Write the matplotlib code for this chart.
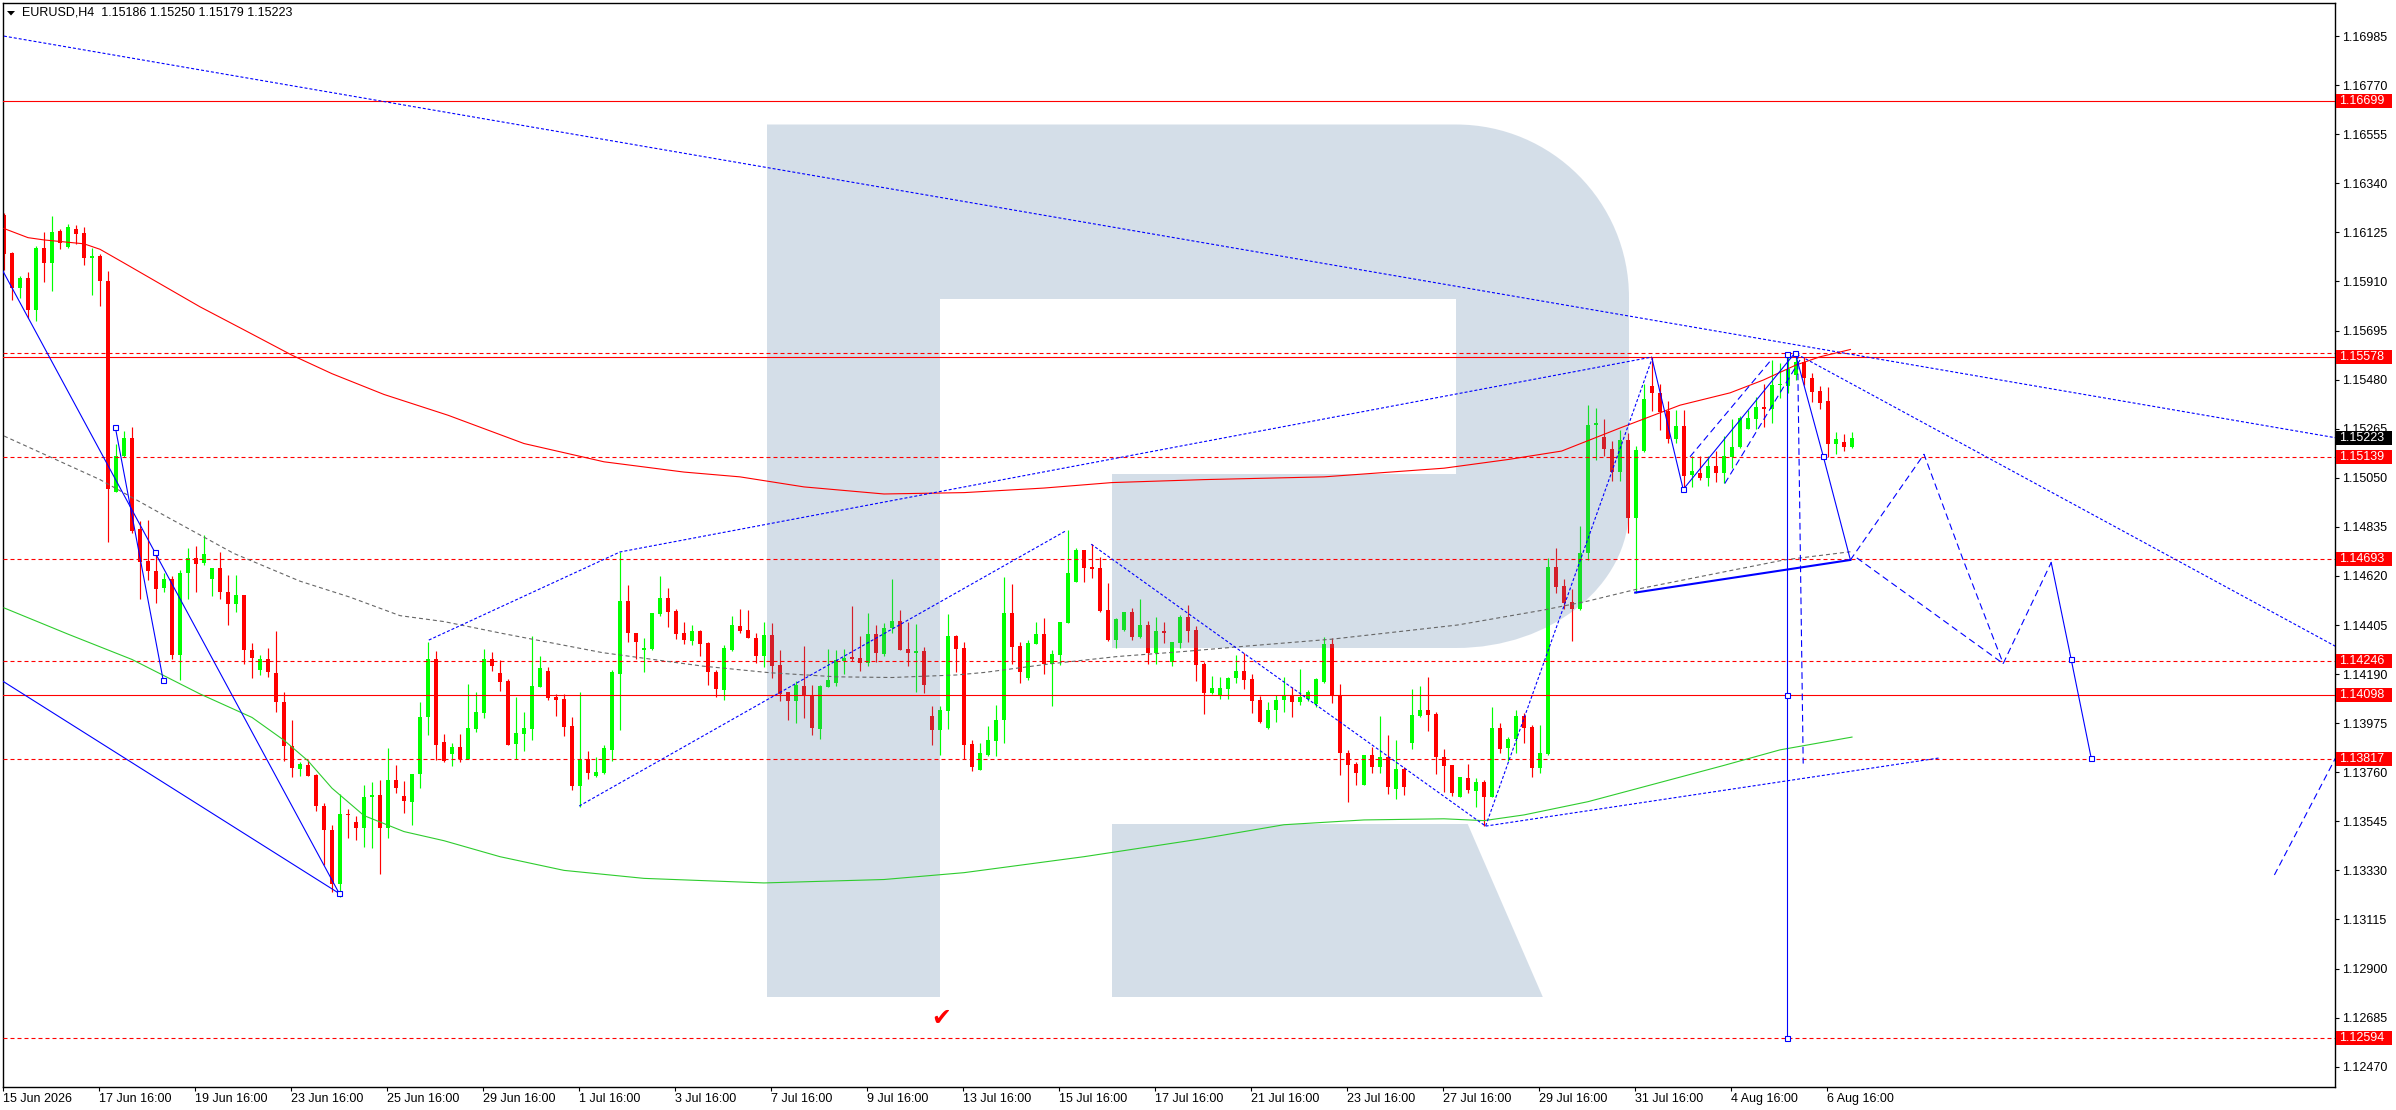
import numpy as np
import matplotlib
matplotlib.use('Agg')
import matplotlib.pyplot as plt
import matplotlib.patches as mpatches
from matplotlib.path import Path
from matplotlib.transforms import Affine2D, blended_transform_factory

plt.rcParams['font.family'] = ['Liberation Sans', 'DejaVu Sans']

# EURUSD H4 candles, bar 0 = 15 Jun 2026 16:00
opens = [1.16203, 1.16035, 1.15880, 1.15926, 1.15785, 1.16055, 1.15991, 1.16132, 1.16061, 1.16142,
         1.16122, 1.16015, 1.16021, 1.15914, 1.14987, 1.15147, 1.15223, 1.14824, 1.14686, 1.14642,
         1.14567, 1.14608, 1.14274, 1.14634, 1.14698, 1.14678, 1.14606, 1.14654, 1.14551, 1.14497,
         1.14537, 1.14295, 1.14210, 1.14254, 1.14194, 1.14069, 1.13875, 1.13776, 1.13790, 1.13748,
         1.13612, 1.13507, 1.13269, 1.13578, 1.13544, 1.13517, 1.13653, 1.13659, 1.13517, 1.13725,
         1.13655, 1.13628, 1.13754, 1.14002, 1.14258, 1.13892, 1.13841, 1.13869, 1.13818, 1.13951,
         1.14021, 1.14256, 1.14193, 1.14159, 1.13885, 1.13929, 1.13951, 1.14135, 1.14203, 1.14089,
         1.14081, 1.13962, 1.13700, 1.13818, 1.13743, 1.13756, 1.13859, 1.14192, 1.14510, 1.14370,
         1.14297, 1.14300, 1.14454, 1.14523, 1.14466, 1.14370, 1.14336, 1.14378, 1.14326, 1.14199,
         1.14120, 1.14297, 1.14400, 1.14383, 1.14348, 1.14269, 1.14361, 1.14230, 1.14111, 1.14073,
         1.14139, 1.14098, 1.13951, 1.14135, 1.14152, 1.14248, 1.14266, 1.14259, 1.14240, 1.14365,
         1.14279, 1.14394, 1.14423, 1.14300, 1.14284, 1.14292, 1.14007, 1.13946, 1.14029, 1.14357,
         1.14305, 1.13884, 1.13770, 1.13836, 1.13899, 1.13989, 1.14458, 1.14315, 1.14173, 1.14322,
         1.14366, 1.14235, 1.14274, 1.14414, 1.14594, 1.14734, 1.14660, 1.14655, 1.14471, 1.14340,
         1.14384, 1.14462, 1.14353, 1.14405, 1.14283, 1.14379, 1.14243, 1.14327, 1.14441, 1.14384,
         1.14235, 1.14108, 1.14099, 1.14125, 1.14173, 1.14204, 1.14169, 1.14077, 1.13954, 1.14033,
         1.14077, 1.14095, 1.14068, 1.14081, 1.14059, 1.14156, 1.14322, 1.14097, 1.13843, 1.13796,
         1.13704, 1.13836, 1.13784, 1.13825, 1.13688, 1.13773, 1.13887, 1.14006, 1.14033, 1.14015,
         1.13825, 1.13792, 1.13650, 1.13733, 1.13679, 1.13719, 1.13650, 1.13952, 1.13868, 1.13904,
         1.14006, 1.13957, 1.13777, 1.13840, 1.14657, 1.14576, 1.14506, 1.14474, 1.14719, 1.15282,
         1.15227, 1.15174, 1.15077, 1.15215, 1.14875, 1.15168, 1.15452, 1.15420, 1.15344, 1.15221,
         1.15277, 1.15061, 1.15069, 1.15049, 1.15101, 1.15072, 1.15142, 1.15183, 1.15265, 1.15309,
         1.15358, 1.15351, 1.15455, 1.15452, 1.15500, 1.15558, 1.15485, 1.15430, 1.15386, 1.15198,
         1.15205, 1.15186]
highs = [1.16209, 1.16041, 1.15934, 1.15950, 1.16065, 1.16128, 1.16197, 1.16142, 1.16162, 1.16158,
         1.16148, 1.16055, 1.16031, 1.15956, 1.15199, 1.15254, 1.15274, 1.14860, 1.14866, 1.14729,
         1.14634, 1.14618, 1.14648, 1.14743, 1.14753, 1.14799, 1.14654, 1.14725, 1.14622, 1.14624,
         1.14537, 1.14325, 1.14274, 1.14305, 1.14379, 1.14113, 1.13988, 1.13806, 1.13814, 1.13754,
         1.13624, 1.13527, 1.13663, 1.13598, 1.13568, 1.13705, 1.13719, 1.13725, 1.13865, 1.13790,
         1.13723, 1.13754, 1.14067, 1.14329, 1.14291, 1.13927, 1.13886, 1.13927, 1.14146, 1.14111,
         1.14300, 1.14286, 1.14251, 1.14167, 1.14089, 1.14024, 1.14359, 1.14269, 1.14219, 1.14102,
         1.14102, 1.14002, 1.14111, 1.13853, 1.13827, 1.13879, 1.14208, 1.14723, 1.14580, 1.14370,
         1.14348, 1.14457, 1.14619, 1.14567, 1.14473, 1.14418, 1.14405, 1.14383, 1.14332, 1.14208,
         1.14316, 1.14444, 1.14475, 1.14470, 1.14370, 1.14418, 1.14413, 1.14295, 1.14111, 1.14159,
         1.14313, 1.14142, 1.14142, 1.14300, 1.14295, 1.14300, 1.14488, 1.14357, 1.14457, 1.14405,
         1.14413, 1.14607, 1.14471, 1.14416, 1.14410, 1.14309, 1.14051, 1.14048, 1.14454, 1.14363,
         1.14331, 1.13902, 1.13889, 1.13963, 1.14055, 1.14616, 1.14585, 1.14331, 1.14340, 1.14419,
         1.14436, 1.14296, 1.14419, 1.14822, 1.14743, 1.14734, 1.14760, 1.14703, 1.14589, 1.14436,
         1.14462, 1.14480, 1.14519, 1.14423, 1.14441, 1.14419, 1.14331, 1.14449, 1.14493, 1.14401,
         1.14243, 1.14182, 1.14178, 1.14178, 1.14274, 1.14283, 1.14191, 1.14095, 1.14068, 1.14099,
         1.14178, 1.14134, 1.14213, 1.14121, 1.14173, 1.14353, 1.14347, 1.14147, 1.13857, 1.13806,
         1.13836, 1.13872, 1.14006, 1.13923, 1.13901, 1.13784, 1.14125, 1.14138, 1.14179, 1.14025,
         1.13860, 1.13792, 1.13738, 1.13796, 1.13733, 1.13726, 1.14044, 1.13974, 1.13913, 1.14033,
         1.14021, 1.13967, 1.13967, 1.14697, 1.14741, 1.14605, 1.14561, 1.14839, 1.15368, 1.15355,
         1.15306, 1.15212, 1.15259, 1.15244, 1.15189, 1.15463, 1.15577, 1.15459, 1.15387, 1.15347,
         1.15347, 1.15145, 1.15145, 1.15145, 1.15168, 1.15233, 1.15306, 1.15320, 1.15349, 1.15405,
         1.15463, 1.15566, 1.15551, 1.15598, 1.15598, 1.15580, 1.15510, 1.15452, 1.15446, 1.15252,
         1.15241, 1.15250]
lows = [1.15960, 1.15829, 1.15839, 1.15752, 1.15738, 1.15906, 1.15869, 1.16051, 1.16055, 1.16075,
        1.15980, 1.15849, 1.15803, 1.14769, 1.14987, 1.15143, 1.14808, 1.14521, 1.14602, 1.14501,
        1.14551, 1.14254, 1.14163, 1.14517, 1.14551, 1.14668, 1.14531, 1.14517, 1.14404, 1.14460,
        1.14234, 1.14174, 1.14188, 1.14178, 1.14026, 1.13810, 1.13739, 1.13743, 1.13743, 1.13592,
        1.13354, 1.13235, 1.13214, 1.13471, 1.13461, 1.13431, 1.13427, 1.13315, 1.13471, 1.13669,
        1.13582, 1.13527, 1.13693, 1.13921, 1.13814, 1.13803, 1.13789, 1.13803, 1.13818, 1.13938,
        1.13999, 1.14205, 1.14117, 1.13881, 1.13818, 1.13854, 1.13901, 1.14135, 1.14076, 1.14008,
        1.13919, 1.13682, 1.13609, 1.13730, 1.13737, 1.13752, 1.13808, 1.13945, 1.14330, 1.14256,
        1.14199, 1.14295, 1.14444, 1.14397, 1.14345, 1.14323, 1.14317, 1.14269, 1.14142, 1.14091,
        1.14076, 1.14291, 1.14371, 1.14348, 1.14237, 1.14222, 1.14174, 1.14073, 1.13989, 1.13977,
        1.13999, 1.13923, 1.13905, 1.14135, 1.14139, 1.14190, 1.14248, 1.14205, 1.14225, 1.14244,
        1.14269, 1.14371, 1.14296, 1.14227, 1.14113, 1.14109, 1.13880, 1.13836, 1.13950, 1.14201,
        1.13817, 1.13767, 1.13770, 1.13832, 1.13832, 1.13889, 1.14235, 1.14151, 1.14165, 1.14322,
        1.14191, 1.14051, 1.14230, 1.14414, 1.14594, 1.14594, 1.14611, 1.14462, 1.14335, 1.14305,
        1.14379, 1.14340, 1.14349, 1.14235, 1.14235, 1.14327, 1.14226, 1.14305, 1.14331, 1.14160,
        1.14016, 1.14103, 1.14081, 1.14081, 1.14152, 1.14125, 1.14020, 1.13976, 1.13950, 1.13981,
        1.14024, 1.14002, 1.14055, 1.14073, 1.14046, 1.14152, 1.14062, 1.13748, 1.13631, 1.13704,
        1.13704, 1.13758, 1.13758, 1.13665, 1.13641, 1.13660, 1.13860, 1.14003, 1.13942, 1.13752,
        1.13675, 1.13656, 1.13650, 1.13668, 1.13609, 1.13525, 1.13650, 1.13846, 1.13811, 1.13846,
        1.13890, 1.13741, 1.13758, 1.13836, 1.14544, 1.14474, 1.14336, 1.14471, 1.14690, 1.15128,
        1.15145, 1.15037, 1.15037, 1.14809, 1.14547, 1.15164, 1.15344, 1.15259, 1.15204, 1.15204,
        1.14999, 1.15008, 1.15040, 1.15015, 1.15033, 1.15025, 1.15091, 1.15179, 1.15262, 1.15262,
        1.15274, 1.15288, 1.15398, 1.15423, 1.15478, 1.15456, 1.15383, 1.15350, 1.15139, 1.15154,
        1.15168, 1.15179]
closes = [1.16031, 1.15880, 1.15926, 1.15785, 1.16055, 1.15991, 1.16128, 1.16077, 1.16148, 1.16118,
          1.16011, 1.16021, 1.15910, 1.15001, 1.15147, 1.15223, 1.14816, 1.14682, 1.14642, 1.14561,
          1.14608, 1.14274, 1.14634, 1.14698, 1.14674, 1.14715, 1.14654, 1.14551, 1.14497, 1.14537,
          1.14295, 1.14262, 1.14254, 1.14198, 1.14067, 1.13875, 1.13780, 1.13794, 1.13743, 1.13612,
          1.13507, 1.13269, 1.13578, 1.13572, 1.13517, 1.13653, 1.13659, 1.13517, 1.13725, 1.13689,
          1.13632, 1.13754, 1.14002, 1.14254, 1.13881, 1.13810, 1.13869, 1.13818, 1.13954, 1.14024,
          1.14256, 1.14227, 1.14156, 1.13881, 1.13932, 1.13954, 1.14138, 1.14216, 1.14086, 1.14076,
          1.13959, 1.13700, 1.13818, 1.13758, 1.13761, 1.13866, 1.14199, 1.14510, 1.14370, 1.14332,
          1.14305, 1.14457, 1.14523, 1.14463, 1.14367, 1.14339, 1.14378, 1.14323, 1.14200, 1.14126,
          1.14304, 1.14405, 1.14378, 1.14348, 1.14269, 1.14361, 1.14225, 1.14102, 1.14073, 1.14143,
          1.14098, 1.13955, 1.14139, 1.14164, 1.14251, 1.14262, 1.14257, 1.14240, 1.14365, 1.14284,
          1.14394, 1.14423, 1.14296, 1.14284, 1.14292, 1.14140, 1.13946, 1.14033, 1.14357, 1.14300,
          1.13880, 1.13785, 1.13843, 1.13902, 1.13989, 1.14458, 1.14309, 1.14200, 1.14327, 1.14366,
          1.14235, 1.14278, 1.14419, 1.14633, 1.14734, 1.14655, 1.14651, 1.14467, 1.14340, 1.14432,
          1.14462, 1.14353, 1.14405, 1.14283, 1.14379, 1.14370, 1.14331, 1.14441, 1.14379, 1.14230,
          1.14108, 1.14130, 1.14130, 1.14173, 1.14204, 1.14165, 1.14073, 1.13981, 1.14033, 1.14077,
          1.14095, 1.14068, 1.14090, 1.14112, 1.14169, 1.14322, 1.14097, 1.13843, 1.13792, 1.13758,
          1.13836, 1.13784, 1.13825, 1.13694, 1.13773, 1.13694, 1.14011, 1.14033, 1.14011, 1.13828,
          1.13789, 1.13671, 1.13738, 1.13682, 1.13719, 1.13650, 1.13952, 1.13860, 1.13904, 1.14006,
          1.13955, 1.13777, 1.13843, 1.14657, 1.14573, 1.14503, 1.14476, 1.14719, 1.15281, 1.15288,
          1.15174, 1.15077, 1.15215, 1.14875, 1.15171, 1.15395, 1.15420, 1.15336, 1.15221, 1.15277,
          1.15058, 1.15079, 1.15049, 1.15101, 1.15072, 1.15145, 1.15186, 1.15314, 1.15310, 1.15361,
          1.15352, 1.15456, 1.15459, 1.15525, 1.15558, 1.15485, 1.15427, 1.15379, 1.15198, 1.15222,
          1.15186, 1.15223]

# moving averages, (bar, price)
ma_red = [(0, 1.16142), (3, 1.16102), (5, 1.16092), (10, 1.16075), (12, 1.16051), (15, 1.15991),
          (19.5, 1.15900), (24.5, 1.15799), (30, 1.15698), (36, 1.15587), (41, 1.15506),
          (47.5, 1.15415), (55.5, 1.15324), (65, 1.15200), (75, 1.15120), (85, 1.15075),
          (92, 1.15054), (100, 1.15010), (110, 1.14979), (120, 1.14985), (130, 1.15005),
          (138.5, 1.15029), (150, 1.15042), (165, 1.15054), (180, 1.15092), (188, 1.15130),
          (194.7, 1.15167), (202, 1.15268), (209.5, 1.15368), (215.75, 1.15422), (219.9, 1.15478),
          (224, 1.15544), (227, 1.15580), (230.8, 1.15612)]
ma_green = [(0, 1.14480), (8, 1.14365), (16, 1.14254), (24.5, 1.14103), (31, 1.14000), (35, 1.13900),
            (38, 1.13810), (41, 1.13690), (45, 1.13570), (50, 1.13500), (55, 1.13460), (62, 1.13390),
            (70, 1.13330), (80, 1.13295), (95, 1.13275), (110, 1.13290), (120, 1.13320), (135, 1.13390),
            (150, 1.13470), (160, 1.13530), (170, 1.13551), (180, 1.13556), (185, 1.13548),
            (190, 1.13573), (198, 1.13631), (204, 1.13687), (215, 1.13790), (222, 1.13858),
            (231, 1.13914)]
ma_gray = [(0, 1.15233), (12, 1.15042), (20.3, 1.14880), (28.7, 1.14719), (37, 1.14597),
           (43.25, 1.14527), (49.5, 1.14446), (55, 1.14420), (62.3, 1.14368), (74.8, 1.14284),
           (87.3, 1.14225), (95.7, 1.14196), (104, 1.14178), (111, 1.14175), (119, 1.14186),
           (122.5, 1.14197), (130.8, 1.14235), (139.2, 1.14267), (147.5, 1.14289), (155.8, 1.14314),
           (166, 1.14343), (181.7, 1.14405), (192.5, 1.14471), (198, 1.14510), (204, 1.14561),
           (222.5, 1.14690), (230.8, 1.14726)]

# horizontal levels
red_solid_levels = [1.16699, 1.15578, 1.14098]
red_dotted_levels = [1.15595, 1.15139, 1.14693, 1.14246, 1.13817, 1.12594]
labelled_levels = [1.16699, 1.15578, 1.15139, 1.14693, 1.14246, 1.14098, 1.13817, 1.12594]
last_price = 1.15223

# analysis objects (bar, price)
blue_solid = [
    [(-0.2, 1.15960), (41.9, 1.13229)],
    [(-0.2, 1.14160), (41.9, 1.13229)],
    [(13.9, 1.15274), (19.9, 1.14163)],
    [(206, 1.15573), (209.9, 1.14999), (223.9, 1.15598), (227.4, 1.15145), (230.8, 1.14690)],
    [(222.9, 1.15592), (222.9, 1.12594)],
    [(255.9, 1.14679), (258.4, 1.14254), (260.9, 1.13822)],
]
blue_thick = [(203.9, 1.14547), (230.8, 1.14690)]
blue_dotted = [
    [(-1, 1.16991), (292, 1.15222)],
    [(224.1, 1.15592), (292, 1.14301)],
    [(53.1, 1.14339), (77, 1.14725), (206, 1.15579)],
    [(71.9, 1.13612), (132.8, 1.14819)],
    [(135.9, 1.14759), (185.2, 1.13524), (206, 1.15571)],
    [(185.2, 1.13524), (242, 1.13823)],
]
blue_dashed = [
    [(210.75, 1.15142), (220.96, 1.15569)],
    [(215.1, 1.15025), (224.5, 1.15566)],
    [(224.2, 1.15600), (224.9, 1.13798)],
    [(230.8, 1.14690), (240, 1.15153), (244.9, 1.14690), (249.9, 1.14236)],
    [(231.6, 1.14699), (249.9, 1.14236)],
    [(249.9, 1.14236), (255.9, 1.14679)],
    [(283.8, 1.13310), (292, 1.13860)],
]
anchors = [(13.9, 1.15274), (18.9, 1.14723), (19.9, 1.14163), (41.9, 1.13229), (209.9, 1.14999),
           (222.9, 1.15592), (223.9, 1.15598), (227.4, 1.15145), (222.9, 1.14098), (222.9, 1.12594),
           (258.4, 1.14254), (260.9, 1.13822)]

date_labels = ['15 Jun 2026', '17 Jun 16:00', '19 Jun 16:00', '23 Jun 16:00', '25 Jun 16:00',
               '29 Jun 16:00', '1 Jul 16:00', '3 Jul 16:00', '7 Jul 16:00', '9 Jul 16:00',
               '13 Jul 16:00', '15 Jul 16:00', '17 Jul 16:00', '21 Jul 16:00', '23 Jul 16:00',
               '27 Jul 16:00', '29 Jul 16:00', '31 Jul 16:00', '4 Aug 16:00', '6 Aug 16:00']
price_ticks = [1.16985, 1.16770, 1.16555, 1.16340, 1.16125, 1.15910, 1.15695, 1.15480, 1.15265,
               1.15050, 1.14835, 1.14620, 1.14405, 1.14190, 1.13975, 1.13760, 1.13545, 1.13330,
               1.13115, 1.12900, 1.12685, 1.12470]

W, H = 2396, 1110
AX_L, AX_T, AX_W, AX_H = 3, 3, 2332, 1084
fig = plt.figure(figsize=(W / 100, H / 100), dpi=100)
ax = fig.add_axes([AX_L / W, 1 - (AX_T + AX_H) / H, AX_W / W, AX_H / H])
ymin, ymax = 1.12381, 1.17130
ax.set_xlim(-0.125, 291.375)
ax.set_ylim(ymin, ymax)
dpp = (ymax - ymin) / AX_H  # price per pixel

# candles
o = np.array(opens); h = np.array(highs); l = np.array(lows); c = np.array(closes)
x = np.arange(len(o))
cols = np.where(c >= o, '#00ff00', '#ff0000')
ax.vlines(x, l, h, colors=cols, lw=0.85, zorder=2)
ax.bar(x, np.maximum(np.abs(c - o), dpp), bottom=np.minimum(o, c), width=0.62,
       color=cols, linewidth=0, zorder=2.1)

# watermark logo, in pixels from the top-left of the plot
px = Affine2D().scale(1 / AX_W, -1 / AX_H).translate(0, 1) + ax.transAxes
k = 0.5523
verts = [(764, 121.5), (1453, 121.5),
         (1453 + k * 173, 121.5), (1626, 294.5 - k * 173), (1626, 294.5),
         (1626, 505),
         (1626, 505 + k * 140), (1453 + k * 173, 645), (1453, 645),
         (1109, 645), (1109, 471), (1453, 471), (1453, 296), (937, 296), (937, 994), (764, 994),
         (764, 121.5)]
codes = [Path.MOVETO, Path.LINETO, Path.CURVE4, Path.CURVE4, Path.CURVE4, Path.LINETO,
         Path.CURVE4, Path.CURVE4, Path.CURVE4, Path.LINETO, Path.LINETO, Path.LINETO,
         Path.LINETO, Path.LINETO, Path.LINETO, Path.LINETO, Path.CLOSEPOLY]
logo_c = (87 / 255, 127 / 255, 167 / 255)
ax.add_patch(mpatches.PathPatch(Path(verts, codes), transform=px, fc=logo_c, ec='none',
                                alpha=0.25, zorder=2.5))
ax.add_patch(mpatches.Polygon([(1109, 821), (1464.7, 821), (1539.8, 994), (1109, 994)],
                              closed=True, transform=px, fc=logo_c, ec='none', alpha=0.25, zorder=2.5))

# levels
for lv in red_solid_levels:
    ax.axhline(lv, color='#ff0000', lw=0.8, zorder=3)
for lv in red_dotted_levels:
    ax.axhline(lv, color='#ff0000', lw=0.8, ls=(0, (3.6, 2.7)), zorder=3)

# moving averages
for pts, col, ls in [(ma_red, '#ff0000', '-'), (ma_green, '#2ecc2e', '-'),
                     (ma_gray, '#666666', (0, (3.6, 2.7)))]:
    xs, ys = zip(*pts)
    ax.plot(xs, ys, color=col, lw=0.8, ls=ls, zorder=3.2)

# objects
for seg in blue_solid:
    xs, ys = zip(*seg)
    ax.plot(xs, ys, color='#0000ff', lw=0.8, zorder=4)
xs, ys = zip(*blue_thick)
ax.plot(xs, ys, color='#0000ff', lw=1.5, zorder=4)
for seg in blue_dotted:
    xs, ys = zip(*seg)
    ax.plot(xs, ys, color='#0000ff', lw=0.8, ls=(0, (2.7, 1.8)), zorder=4)
for seg in blue_dashed:
    xs, ys = zip(*seg)
    ax.plot(xs, ys, color='#0000ff', lw=0.8, ls=(0, (6, 3.6)), zorder=4)
ax.plot(*zip(*anchors), ls='none', marker='s', ms=3.6, mfc='white', mec='#0000ff', mew=0.8, zorder=5)

ax.text(117.1, 1.12684, '\u2714', color='#ff0000', fontsize=17, ha='center', va='center',
        family='DejaVu Sans', zorder=5)

# axes styling
for sp in ax.spines.values():
    sp.set_color('black')
    sp.set_linewidth(1.0)
ax.yaxis.tick_right()
ax.set_yticks(price_ticks)
ax.set_yticklabels([f'{p:.5f}' for p in price_ticks])
ax.tick_params(axis='y', direction='out', length=3, width=0.8, labelsize=9, pad=2, colors='black')
ax.set_xticks([12 * i - 0.125 for i in range(len(date_labels))])
ax.set_xticklabels(date_labels)
for t in ax.get_xticklabels():
    t.set_ha('left')
ax.tick_params(axis='x', direction='out', length=3, width=0.8, labelsize=9, pad=1, colors='black')

# price boxes on the scale
tr = blended_transform_factory(ax.transAxes, ax.transData)
bw = 56 / AX_W
for lv in labelled_levels + [last_price]:
    fc = '#000000' if lv == last_price else '#ff0000'
    ax.add_patch(mpatches.Rectangle((1.0004, lv - 7 * dpp), bw, 14 * dpp, transform=tr,
                                    fc=fc, ec='none', clip_on=False, zorder=10))
    ax.text(1 + 4 / AX_W, lv, f'{lv:.5f}', transform=tr, color='white', fontsize=9,
            ha='left', va='center', clip_on=False, zorder=11)

# header
ax.add_patch(mpatches.Polygon([(4, 8), (12, 8), (8, 12.5)], closed=True, transform=px,
                              fc='black', ec='none', zorder=6))
ax.text(19 / AX_W, 1 - 9.5 / AX_H, 'EURUSD,H4  1.15186 1.15250 1.15179 1.15223',
        transform=ax.transAxes, fontsize=9, color='black', ha='left', va='center', zorder=6)

fig.savefig('out.png', dpi=100)
